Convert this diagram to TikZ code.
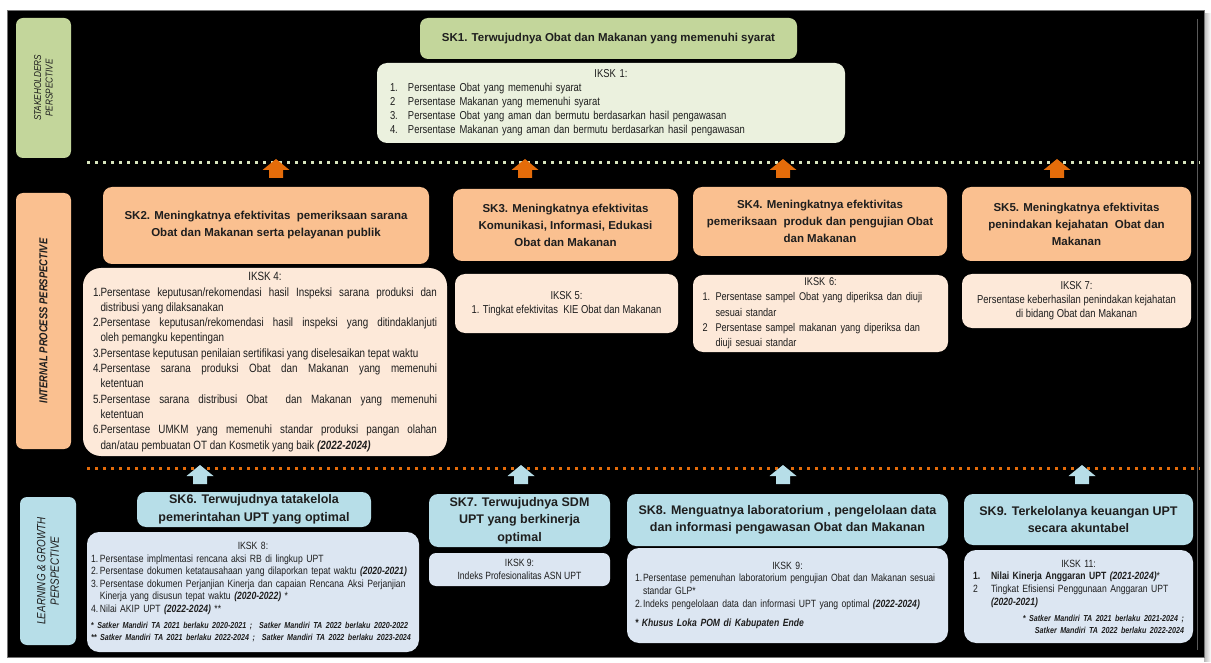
\documentclass[tikz,border=0pt]{standalone}
\usepackage{fontspec}
\setmainfont{Liberation Sans}
\newfontfamily\nar{Liberation Sans}[FakeStretch=0.82]
\definecolor{grnS}{HTML}{C3D69B}
\definecolor{grnL}{HTML}{EBF1DE}
\definecolor{orgS}{HTML}{FAC090}
\definecolor{orgL}{HTML}{FDE9D9}
\definecolor{bluS}{HTML}{B7DEE8}
\definecolor{bluL}{HTML}{DCE6F2}
\definecolor{arrO}{HTML}{E46C0A}
\definecolor{dotG}{HTML}{D7E4BD}
\definecolor{txt}{HTML}{1E1E1E}
\newcommand\hdA{\bfseries\fontsize{11.5}{17}\selectfont}
\newcommand\hdB{\bfseries\fontsize{12.5}{17.5}\selectfont}
\newcommand\bdA{\nar\fontsize{11.5}{14}\selectfont}
\newcommand\bdK{\nar\fontsize{12}{15.3}\selectfont}
\newcommand\bdC{\nar\fontsize{10.5}{12.6}\selectfont}
\newcommand\ntC{\nar\bfseries\itshape\fontsize{8.7}{11.5}\selectfont}
\newcommand\itm[3][18pt]{\par\hangindent=#1\hangafter=1\noindent\makebox[#1][l]{#2}#3\par}
\newcommand\bi[1]{\textbf{\textit{#1}}}
\newcommand\blockup[3]{\fill[#3] (#1-7,#2) -- (#1-7,#2-8) -- (#1-13.5,#2-8) -- (#1,#2-19) -- (#1+13.5,#2-8) -- (#1+7,#2-8) -- (#1+7,#2) -- cycle;}
\begin{document}
\begin{tikzpicture}[x=1pt,y=-1pt,
  lab/.style={rotate=90, rounded corners=7pt, inner sep=0pt, align=center, text=txt},
  skG/.style={fill=grnS, rounded corners=8pt, inner sep=0pt, align=center, font=\hdA, text=txt},
  skO/.style={fill=orgS, rounded corners=9pt, inner sep=0pt, align=center, font=\hdA, text=txt},
  skB/.style={fill=bluS, rounded corners=9pt, inner sep=0pt, align=center, font=\hdB, text=txt},
  ikG/.style={fill=grnL, rounded corners=10pt, inner sep=0pt, font=\bdA, text=txt},
  ikO/.style={fill=orgL, rounded corners=10pt, inner sep=0pt, font=\bdA, text=txt},
  ikB/.style={fill=bluL, rounded corners=12pt, inner sep=0pt, font=\bdC, text=txt},
  dotline/.style={line width=3pt, dash pattern=on 3pt off 5pt}]
\useasboundingbox (0,0) rectangle (1211,663);
\fill[white] (0,0) rectangle (1211,663);
\shade[left color=gray!55, right color=white] (1204,14) rectangle (1211,661);
\fill[black, draw=black!55, line width=0.6pt] (7,10) rectangle (1204,657);
\draw[black!65, line width=0.6pt] (1197,19) -- (1197,650);

% perspective labels
\node[lab, fill=grnS, minimum width=140pt, minimum height=55pt, font=\nar\itshape\fontsize{10}{11.5}\selectfont] (lst) at (43.5,88) {STAKEHOLDERS\\PERSPECTIVE};
\node[lab, fill=orgS, minimum width=256pt, minimum height=55pt, font=\nar\bfseries\itshape\fontsize{11.5}{12}\selectfont] (lip) at (43.5,321) {INTERNAL PROCESS PERSPECTIVE};
\node[lab, fill=bluS, minimum width=148pt, minimum height=56pt, font=\nar\itshape\fontsize{12}{13.5}\selectfont] (llg) at (48,571) {LEARNING \& GROWTH\\PERSPECTIVE};

% stakeholders row
\node[skG, minimum width=377pt, minimum height=41pt] (sk1) at (608.5,38.5) {SK1. Terwujudnya Obat dan Makanan yang memenuhi syarat};
\node[ikG, minimum width=468pt, minimum height=80pt, text width=442pt, align=left] (ik1) at (611,103) {%
{\centering IKSK 1:\par}
\itm{1.}{Persentase Obat yang memenuhi syarat}
\itm{2}{Persentase Makanan yang memenuhi syarat}
\itm{3.}{Persentase Obat yang aman dan bermutu berdasarkan hasil pengawasan}
\itm{4.}{Persentase Makanan yang aman dan bermutu berdasarkan hasil pengawasan}};

\draw[dotG, dotline] (87,163) -- (1200,163);
\blockup{276}{178}{arrO}
\blockup{525}{178}{arrO}
\blockup{783}{178}{arrO}
\blockup{1057}{178}{arrO}

% internal process row
\node[skO, minimum width=326pt, minimum height=77pt] (sk2) at (266,225.5) {SK2. Meningkatnya efektivitas \ pemeriksaan sarana\\Obat dan Makanan serta pelayanan publik};
\node[ikO, rounded corners=18pt, minimum width=364pt, minimum height=188pt, text width=344pt, align=justify, font=\bdK] (ik4) at (265,362) {%
{\centering IKSK 4:\par}
\itm[7.5pt]{1.}{Persentase keputusan/rekomendasi hasil Inspeksi sarana produksi dan\linebreak distribusi yang dilaksanakan}
\itm[7.5pt]{2.}{Persentase keputusan/rekomendasi hasil inspeksi yang ditindaklanjuti\linebreak oleh pemangku kepentingan}
\itm[7.5pt]{3.}{Persentase keputusan penilaian sertifikasi yang diselesaikan tepat waktu}
\itm[7.5pt]{4.}{Persentase sarana produksi Obat dan Makanan yang memenuhi\linebreak ketentuan}
\itm[7.5pt]{5.}{Persentase sarana distribusi Obat \ dan Makanan yang memenuhi\linebreak ketentuan}
\itm[7.5pt]{6.}{Persentase UMKM yang memenuhi standar produksi pangan olahan\linebreak dan/atau pembuatan OT dan Kosmetik yang baik \bi{(2022-2024)}}};

\node[skO, minimum width=225pt, minimum height=72pt] (sk3) at (565.5,225) {SK3. Meningkatnya efektivitas\\Komunikasi, Informasi, Edukasi\\Obat dan Makanan};
\node[ikO, minimum width=223pt, minimum height=59pt, align=center] (ik5) at (566.5,303.5) {IKSK 5:\\1. Tingkat efektivitas \ KIE Obat dan Makanan};

\node[skO, minimum width=254pt, minimum height=69pt] (sk4) at (820,221.5) {SK4. Meningkatnya efektivitas\\pemeriksaan \ produk dan pengujian Obat\\dan Makanan};
\node[ikO, minimum width=255pt, minimum height=77pt, text width=236pt, align=left, font=\nar\fontsize{11.2}{15.3}\selectfont] (ik6) at (820.5,313.5) {%
{\centering IKSK 6:\par}
\itm[13pt]{1.}{Persentase sampel Obat yang diperiksa dan diuji\newline sesuai standar}
\itm[13pt]{2}{Persentase sampel makanan yang diperiksa dan\newline diuji sesuai standar}};

\node[skO, minimum width=229pt, minimum height=74pt] (sk5) at (1076.5,224) {SK5. Meningkatnya efektivitas\\penindakan kejahatan \ Obat dan\\Makanan};
\node[ikO, minimum width=229pt, minimum height=54pt, align=center] (ik7) at (1076.5,301) {IKSK 7:\\Persentase keberhasilan penindakan kejahatan\\di bidang Obat dan Makanan};

\draw[arrO, dotline] (87,468) -- (1200,468);
\blockup{200}{484}{bluS}
\blockup{521}{484}{bluS}
\blockup{783}{484}{bluS}
\blockup{1082}{484}{bluS}

% learning & growth row
\node[skB, minimum width=234pt, minimum height=35pt] (sk6) at (254,509.5) {SK6. Terwujudnya tatakelola\\pemerintahan UPT yang optimal};
\node[ikB, minimum width=332pt, minimum height=120pt, text width=324pt, align=left] (ik8) at (253,592) {%
{\centering IKSK 8:\par}
\itm[9pt]{1.}{Persentase implmentasi rencana aksi RB di lingkup UPT}
\itm[9pt]{2.}{Persentase dokumen ketatausahaan yang dilaporkan tepat waktu \bi{(2020-2021)}}
\itm[9pt]{3.}{Persentase dokumen Perjanjian Kinerja dan capaian Rencana Aksi Perjanjian\newline Kinerja yang disusun tepat waktu \bi{(2020-2022)} *}
\itm[9pt]{4.}{Nilai AKIP UPT \bi{(2022-2024)} **}
\vspace{5pt}
{\ntC\noindent\mbox{* Satker Mandiri TA 2021 berlaku 2020-2021 ; \ Satker Mandiri TA 2022 berlaku 2020-2022}\par
\noindent\mbox{** Satker Mandiri TA 2021 berlaku 2022-2024 ; \ Satker Mandiri TA 2022 berlaku 2023-2024}\par}};

\node[skB, minimum width=181pt, minimum height=53pt] (sk7) at (519.5,520.5) {SK7. Terwujudnya SDM\\UPT yang berkinerja\\optimal};
\node[ikB, rounded corners=7pt, minimum width=181pt, minimum height=33pt, align=center] (ik9a) at (519.5,569.5) {IKSK 9:\\Indeks Profesionalitas ASN UPT};

\node[skB, minimum width=321pt, minimum height=52pt] (sk8) at (787.5,520) {SK8. Menguatnya laboratorium , pengelolaan data\\dan informasi pengawasan Obat dan Makanan};
\node[ikB, minimum width=321pt, minimum height=95pt, text width=305pt, align=left] (ik9b) at (787.5,595.5) {%
{\centering IKSK 9:\par}
\itm[8pt]{1.}{Persentase pemenuhan laboratorium pengujian Obat dan Makanan sesuai\newline standar GLP*}
\itm[8pt]{2.}{Indeks pengelolaan data dan informasi UPT yang optimal \bi{(2022-2024)}}
\vspace{7pt}
{\nar\bfseries\itshape\fontsize{10.5}{12.6}\selectfont\noindent * Khusus Loka POM di Kabupaten Ende\par}};

\node[skB, minimum width=229pt, minimum height=51pt] (sk9) at (1078.5,519.5) {SK9. Terkelolanya keuangan UPT\\secara akuntabel};
\node[ikB, minimum width=229pt, minimum height=93pt, text width=211pt, align=left] (ik11) at (1078.5,596.5) {%
{\centering IKSK 11:\par}
\itm{\textbf{1.}}{\textbf{Nilai Kinerja Anggaran UPT} \bi{(2021-2024)}*}
\itm{2}{Tingkat Efisiensi Penggunaan Anggaran UPT\newline \bi{(2020-2021)}}
\vspace{5pt}
{\raggedleft\ntC * Satker Mandiri TA 2021 berlaku 2021-2024 ;\\ Satker Mandiri TA 2022 berlaku 2022-2024\par}};
\end{tikzpicture}
\end{document}
